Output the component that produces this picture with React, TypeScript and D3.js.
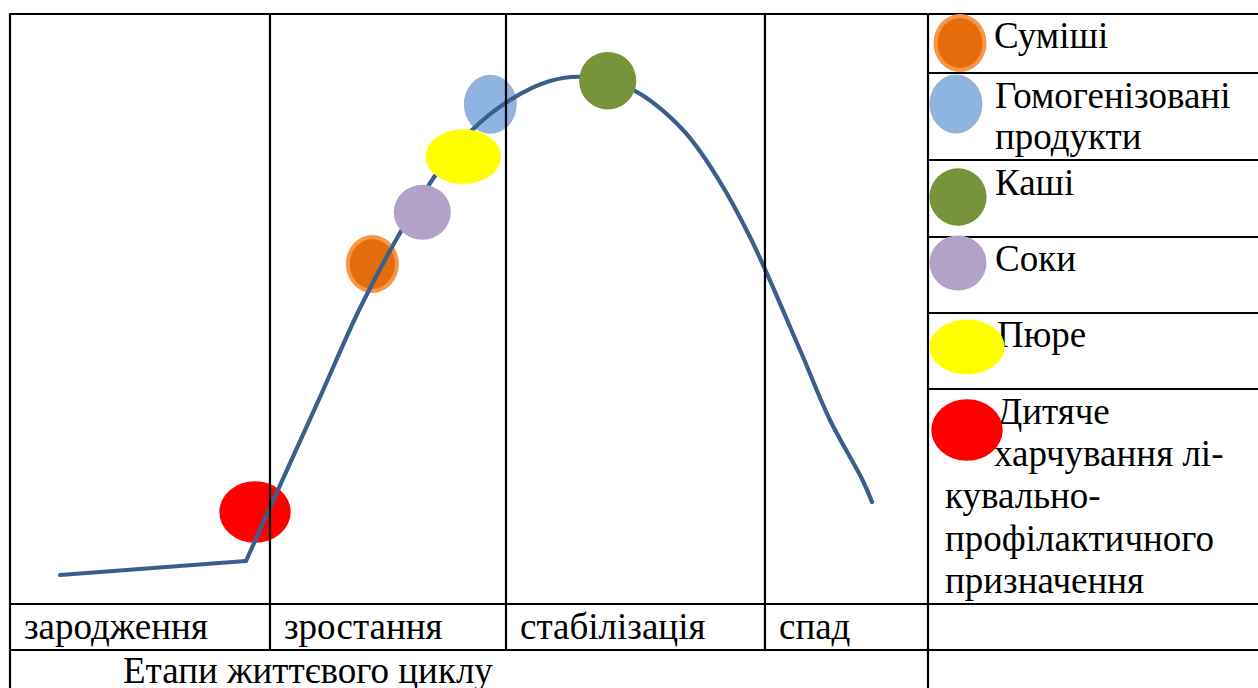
import React from "react";
import * as d3 from "d3";

// ---- data ----
const stages = ["зародження", "зростання", "стабілізація", "спад"];
const stageBounds = [0, 28.32, 54.03, 82.24, 100];
const axisTitle = "Етапи життєвого циклу";

// flat introduction segment (time %, sales level %)
const introSegment: [number, number][] = [
  [5.45, 4.92],
  [25.71, 7.29],
];
// growth, maturity and decline curve
const lifeCurve: [number, number][] = [
  [25.71, 7.29],
  [29.08, 18.98],
  [33.77, 35.08],
  [38.13, 50.17],
  [42.48, 62.88],
  [46.51, 73.05],
  [50.11, 80.0],
  [54.47, 85.42],
  [58.82, 88.64],
  [62.64, 89.32],
  [67.86, 87.12],
  [73.31, 80.34],
  [77.02, 72.37],
  [80.61, 62.2],
  [86.06, 43.05],
  [89.32, 31.19],
  [92.81, 21.19],
  [93.9, 17.29],
];

const products = [
  "Суміші",
  "Гомогенізовані продукти",
  "Каші",
  "Соки",
  "Пюре",
  "Дитяче харчування лікувально-профілактичного призначення",
];
const productTime = [39.47, 52.32, 65.11, 44.91, 49.38, 26.69];
const productLevel = [57.63, 84.69, 88.69, 66.39, 75.81, 15.59];

// ---- styles / layout ----
const productFill = ["#E46C0A", "#8EB4E3", "#77933C", "#B2A2C7", "#FFFF00", "#FF0000"];
const productRing = ["#F79646", "#95B3D7", "none", "none", "none", "none"];
const productRadii: [number, number][] = [
  [26.5, 29],
  [26.5, 29.5],
  [28.6, 28.8],
  [28.5, 27.5],
  [37.7, 27.4],
  [35.7, 30.8],
];
const aboveCurve = [false, false, true, true, true, false];

const legendRows = [14, 73, 160, 237, 313, 389, 604, 650];
const legendMarks: [number, number][] = [
  [960, 43],
  [956, 104],
  [958, 197],
  [958, 263],
  [967, 347],
  [967, 430],
];
const legendLines: { t: string; x: number; y: number }[][] = [
  [{ t: "Суміші", x: 994, y: 48 }],
  [
    { t: "Гомогенізовані", x: 995, y: 108 },
    { t: "продукти", x: 995, y: 149 },
  ],
  [{ t: "Каші", x: 995, y: 195 }],
  [{ t: "Соки", x: 995, y: 271 }],
  [{ t: "Пюре", x: 997, y: 347 }],
  [
    { t: "Дитяче", x: 997, y: 424 },
    { t: "харчування лі-", x: 994, y: 466 },
    { t: "кувально-", x: 945, y: 508 },
    { t: "профілактичного", x: 945, y: 551 },
    { t: "призначення", x: 945, y: 593 },
  ],
];

const W = 1258;
const H = 688;
const FONT = "Liberation Serif";
const FS = 37;
const CURVE = "#3B5F8D";

export default function App() {
  const x = d3.scaleLinear().domain([0, 100]).range([10, 928]);
  const y = d3.scaleLinear().domain([0, 100]).range([604, 14]);

  const straight = d3
    .line<[number, number]>()
    .x((d) => x(d[0]))
    .y((d) => y(d[1]));
  const smooth = d3
    .line<[number, number]>()
    .x((d) => x(d[0]))
    .y((d) => y(d[1]))
    .curve(d3.curveCatmullRom.alpha(0.5));

  const ellipse = (i: number, cx: number, cy: number, key: string) => {
    const [rx, ry] = productRadii[i];
    if (productRing[i] !== "none") {
      return (
        <g key={key}>
          <ellipse cx={cx} cy={cy} rx={rx} ry={ry} fill={productRing[i]} />
          <ellipse cx={cx} cy={cy} rx={rx - 4} ry={ry - 4} fill={productFill[i]} />
        </g>
      );
    }
    return <ellipse key={key} cx={cx} cy={cy} rx={rx} ry={ry} fill={productFill[i]} />;
  };

  const lineStyle = { stroke: "#000", strokeWidth: 2.2 };
  const left = x(0);
  const right = x(100);
  const ts = { fontFamily: FONT, fontSize: FS, fill: "#000" };

  return (
    <svg width={W} height={H} style={{ position: "absolute", left: 0, top: 0, background: "#fff" }}>
      <rect width={W} height={H} fill="#fff" />

      {/* product markers below the curve */}
      {products.map((_, i) =>
        aboveCurve[i] ? null : ellipse(i, x(productTime[i]), y(productLevel[i]), "b" + i)
      )}

      {/* life-cycle curve */}
      <path d={straight(introSegment) || ""} fill="none" stroke={CURVE} strokeWidth={4.2} strokeLinecap="round" />
      <path d={smooth(lifeCurve) || ""} fill="none" stroke={CURVE} strokeWidth={4.2} strokeLinecap="round" strokeLinejoin="round" />

      {/* product markers above the curve */}
      {products.map((_, i) =>
        aboveCurve[i] ? ellipse(i, x(productTime[i]), y(productLevel[i]), "a" + i) : null
      )}

      {/* table grid */}
      <line x1={left} x2={W} y1={14} y2={14} {...lineStyle} />
      <line x1={left} x2={W} y1={604} y2={604} {...lineStyle} />
      <line x1={left} x2={W} y1={650} y2={650} {...lineStyle} />
      <line x1={left} x2={left} y1={13} y2={H} {...lineStyle} />
      {stageBounds.slice(1, -1).map((b, i) => (
        <line key={"v" + i} x1={x(b)} x2={x(b)} y1={13} y2={650} {...lineStyle} />
      ))}
      <line x1={right} x2={right} y1={13} y2={H} {...lineStyle} />
      {legendRows.slice(1, 6).map((r, i) => (
        <line key={"h" + i} x1={right} x2={W} y1={r} y2={r} {...lineStyle} />
      ))}

      {/* stage labels */}
      {stages.map((s, i) => (
        <text key={s} x={x(stageBounds[i]) + 14} y={639} style={ts}>
          {s}
        </text>
      ))}
      <text x={123} y={683} style={ts}>
        {axisTitle}
      </text>

      {/* legend */}
      {legendLines.map((lines, i) =>
        lines.map((l, j) => (
          <text key={"l" + i + "-" + j} x={l.x} y={l.y} style={ts}>
            {l.t}
          </text>
        ))
      )}
      {products.map((_, i) => ellipse(i, legendMarks[i][0], legendMarks[i][1], "m" + i))}
    </svg>
  );
}
